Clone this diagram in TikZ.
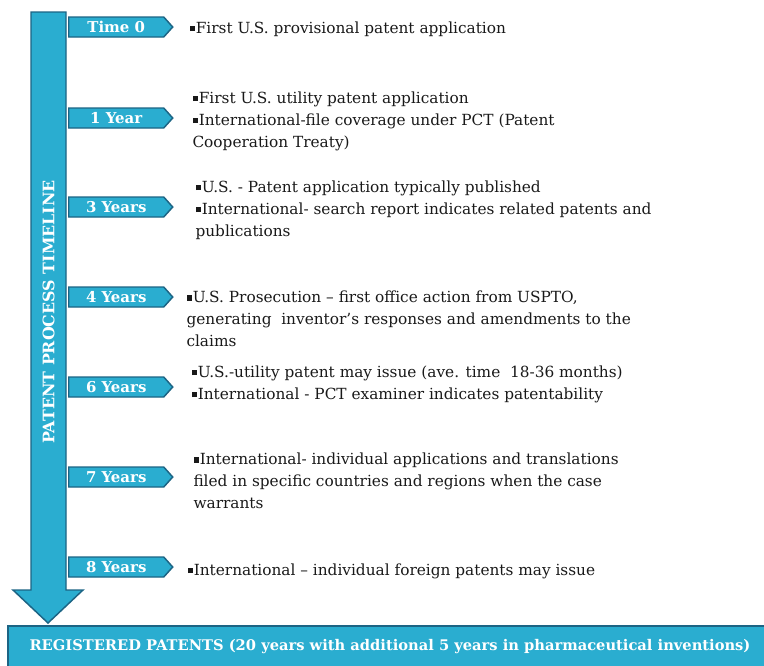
\documentclass[tikz,border=0pt]{standalone}
\usepackage{fontspec}
\setmainfont{DejaVu Serif}
\usetikzlibrary{shapes.symbols}

\definecolor{stagefill}{RGB}{42,173,208}
\definecolor{stageline}{RGB}{28,100,132}
\definecolor{notetext}{RGB}{25,25,25}

\newcommand{\sqbul}{\rule[0.25ex]{0.36em}{0.36em}\hspace{0.05em}}

\tikzset{every picture/.style={line width=0.75pt}}
\tikzset{
  stage/.style={shape=signal, signal to=east, signal pointer angle=96,
    fill=stagefill, draw=stageline, line width=1.1pt, text=white,
    font=\bfseries\fontsize{11.2}{12}\selectfont,
    minimum width=78pt, minimum height=15pt, inner sep=0.5pt, anchor=west},
  note/.style={anchor=west, align=left, inner sep=0.75pt, text=notetext,
    font=\fontsize{11.5}{16.5}\selectfont}
}

\begin{document}
\begin{tikzpicture}[x=0.75pt,y=0.75pt,yscale=-1,xscale=1]
\useasboundingbox (0,0) rectangle (764,665);

%Shape: Down Arrow [id:timeline]
\draw [fill=stagefill, draw=stageline, line width=1.1pt] (31,12) -- (66,12) -- (66,590) -- (83,590) -- (48,623) -- (13,590) -- (31,590) -- cycle ;

% Text Node
\node (axis) at (48.5,312) [rotate=90, text=white, inner sep=0.75pt, font=\bfseries\fontsize{11.9}{13}\selectfont] {PATENT PROCESS TIMELINE};

%Shape: Rectangle [id:registered]
\node (reg) at (390,647) [fill=stagefill, draw=stageline, line width=1.1pt, text=white,
  minimum width=573pt, minimum height=31.5pt, inner sep=0pt,
  font=\bfseries\fontsize{11}{12}\selectfont] {REGISTERED PATENTS (20 years with additional 5 years in pharmaceutical inventions)};

% Stages
\node (t0) at (68,27) [stage] {Time 0};
\node (t1) at (68,118) [stage] {1 Year};
\node (t3) at (68,207) [stage] {3 Years};
\node (t4) at (68,297) [stage] {4 Years};
\node (t6) at (68,387) [stage] {6 Years};
\node (t7) at (68,477) [stage] {7 Years};
\node (t8) at (68,567) [stage] {8 Years};

% Text Node
\node (n0) at (188,29) [note] {\sqbul First U.S. provisional patent application};
% Text Node
\node (n1) at (191,121) [note] {\sqbul First U.S. utility patent application\\
  \sqbul International-file coverage under PCT (Patent\\
  Cooperation Treaty)};
% Text Node
\node (n3) at (194,210) [note] {\sqbul U.S. - Patent application typically published\\
  \sqbul International- search report indicates related patents and\\
  publications};
% Text Node
\node (n4) at (185,319) [note] {\sqbul U.S. Prosecution -- first office action from USPTO,\\
  generating\ \ inventor’s responses and amendments to the\\
  claims};
% Text Node
\node (n6) at (190,384) [note] {\sqbul U.S.-utility patent may issue (ave. time\ \ 18-36 months)\\
  \sqbul International - PCT examiner indicates patentability};
% Text Node
\node (n7) at (192,481) [note] {\sqbul International- individual applications and translations\\
  filed in specific countries and regions when the case\\
  warrants};
% Text Node
\node (n8) at (186,571) [note] {\sqbul International -- individual foreign patents may issue};

\end{tikzpicture}
\end{document}
